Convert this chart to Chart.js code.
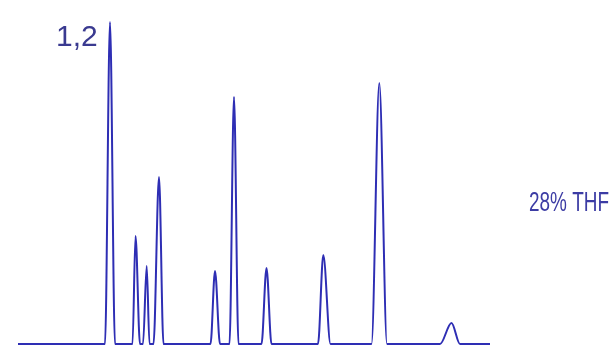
<!DOCTYPE html>
<html>
<head>
<meta charset="utf-8">
<script src="https://cdn.jsdelivr.net/npm/chart.js@4"></script>
<style>
  body { margin: 0; background: #fff; }
  #wrap { width: 614px; height: 355px; }
</style>
</head>
<body>
<div id="wrap"><canvas id="chromChart" width="614" height="355"></canvas></div>
<script>
// Trace points: retention position and detector response
const retention = [18, 105, 110, 115, 132.5, 135.5, 140, 143, 146.7, 149.5, 153.5, 159, 163.5,
  210.5, 215, 220, 229.5, 234, 238.5, 261.5, 266.5, 271.5, 318, 323.3, 330.5,
  371.5, 379.3, 387, 440, 451.5, 460, 490];
const response = [0, 0, 322, 0, 0, 108, 0, 0, 78, 0, 0, 167, 0,
  0, 73, 0, 0, 247, 0, 0, 76, 0, 0, 89, 0,
  0, 261, 0, 0, 21, 0, 0];

// Labels on the chromatogram
const peakLabel = '1,2';
const solventLabel = '28% THF';

const points = retention.map((x, i) => ({ x: x, y: response[i] }));

// Draw the two text labels (maxWidth squeezes them like the narrow font in the picture)
const labelPlugin = {
  id: 'labels',
  afterDraw(chart) {
    const ctx = chart.ctx;
    ctx.save();
    ctx.textBaseline = 'alphabetic';
    ctx.fillStyle = '#3a3a90';
    ctx.font = '30px "Liberation Sans", Arial, sans-serif';
    ctx.fillText(peakLabel, 56, 46, 42);
    ctx.fillStyle = '#3c3ca4';
    ctx.font = '28px "Liberation Sans", Arial, sans-serif';
    ctx.fillText(solventLabel, 529, 211, 80);
    ctx.restore();
  }
};

new Chart(document.getElementById('chromChart'), {
  type: 'line',
  data: {
    datasets: [{
      data: points,
      borderColor: '#2e2eb4',
      borderWidth: 2,
      pointRadius: 0,
      cubicInterpolationMode: 'monotone',
      fill: false
    }]
  },
  options: {
    responsive: false,
    animation: false,
    layout: { padding: 0 },
    plugins: { legend: { display: false }, tooltip: { enabled: false } },
    scales: {
      x: { type: 'linear', min: 0, max: 614, display: false },
      y: { min: -11, max: 344, display: false }
    }
  },
  plugins: [labelPlugin]
});
</script>
</body>
</html>
